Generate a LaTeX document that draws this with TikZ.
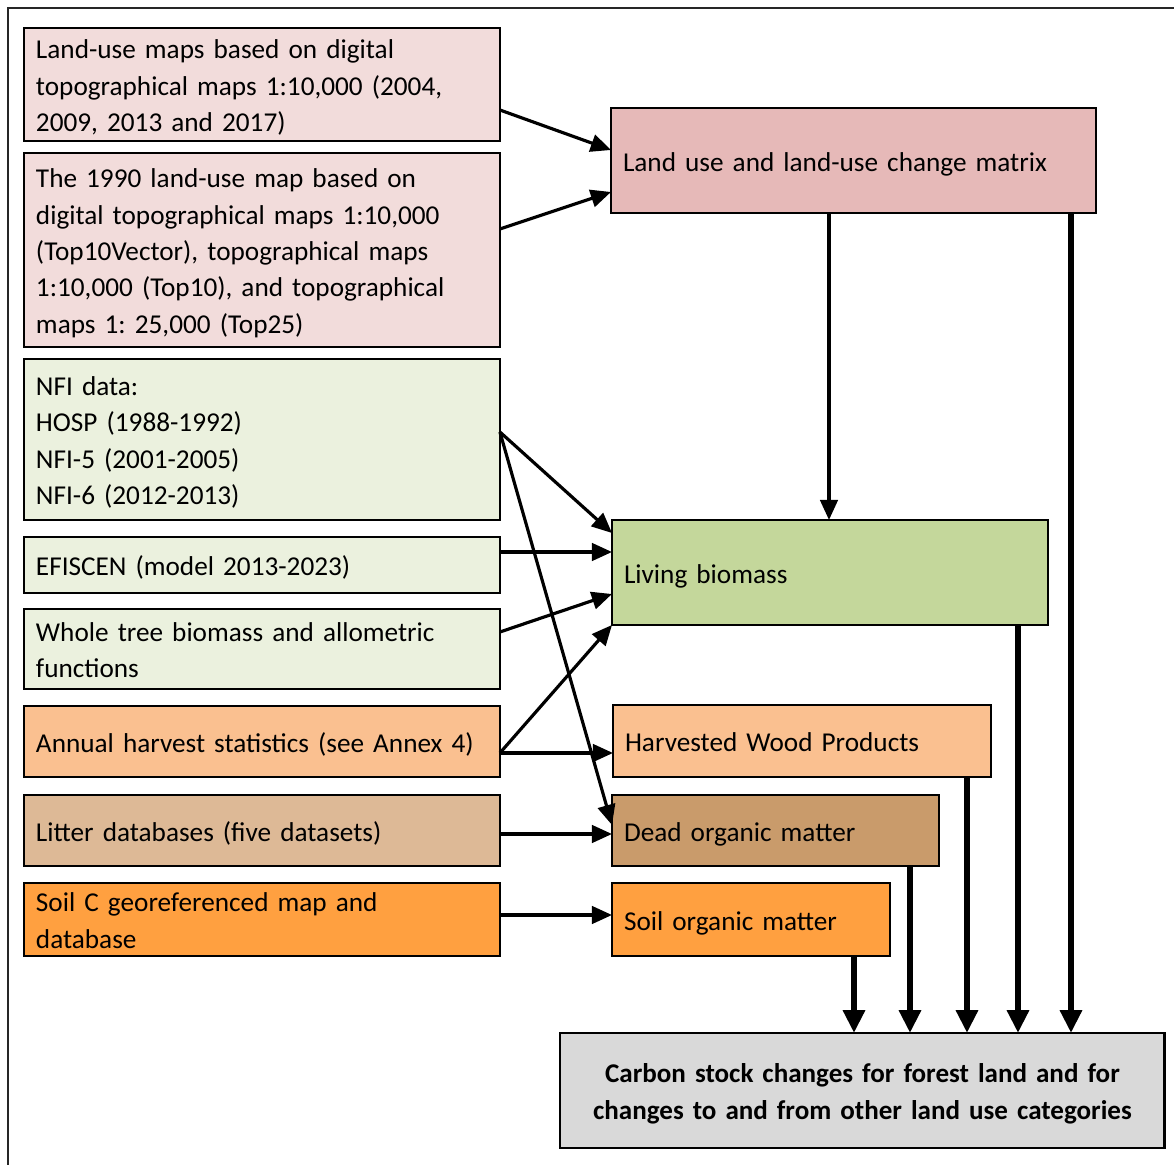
\documentclass[tikz,border=0pt]{standalone}
\usepackage{fontspec}
\setmainfont{Carlito}
\usetikzlibrary{arrows.meta}
\frenchspacing
\definecolor{cPinkL}{HTML}{F2DCDB}
\definecolor{cPink}{HTML}{E6B9B8}
\definecolor{cGreenL}{HTML}{EBF1DE}
\definecolor{cGreen}{HTML}{C4D79B}
\definecolor{cPeach}{HTML}{FAC090}
\definecolor{cLitter}{HTML}{DDB996}
\definecolor{cDead}{HTML}{C99B6B}
\definecolor{cSoil}{HTML}{FFA040}
\definecolor{cGray}{HTML}{D9D9D9}
\tikzset{
  boxx/.style={draw=black, line width=1.6pt, anchor=north west, inner xsep=0.24cm, inner ysep=0pt,
    align=left, font=\fontsize{15.5}{20.7}\selectfont\frenchspacing, outer sep=0pt,
    execute at begin node={\rule{0pt}{15.5pt}},
    execute at end node={\rule[-3.5pt]{0pt}{0pt}}},
  thinarr/.style={line width=1.8pt, -{Triangle[length=11.5pt,width=10pt]}},
  thickarr/.style={line width=3.3pt, -{Triangle[length=13pt,width=12pt]}},
}
\begin{document}
\begin{tikzpicture}[x=0.02cm, y=-0.02cm]
\useasboundingbox (0,0) rectangle (1174,1165);
\draw[line width=1.2pt, black!85] (1174,8) -- (8,8) -- (8,1165);
% left column
\node[boxx, fill=cPinkL, text width=9.04cm, minimum height=2.26cm] (b1) at (24,28)
  {Land-use maps based on digital\\topographical maps 1:10,000 (2004,\\2009, 2013 and 2017)};
\node[boxx, fill=cPinkL, text width=9.04cm, minimum height=3.88cm] (b2) at (24,153)
  {The 1990 land-use map based on\\digital topographical maps 1:10,000\\(Top10Vector), topographical maps\\1:10,000 (Top10), and topographical\\maps 1: 25,000 (Top25)};
\node[boxx, fill=cGreenL, text width=9.04cm, minimum height=3.22cm] (b3) at (24,359)
  {NFI data:\\HOSP (1988-1992)\\NFI-5 (2001-2005)\\NFI-6 (2012-2013)};
\node[boxx, fill=cGreenL, text width=9.04cm, minimum height=1.12cm] (b4) at (24,537)
  {EFISCEN (model 2013-2023)};
\node[boxx, fill=cGreenL, text width=9.04cm, minimum height=1.60cm] (b5) at (24,609)
  {Whole tree biomass and allometric\\functions};
\node[boxx, fill=cPeach, text width=9.04cm, minimum height=1.42cm] (b6) at (24,706)
  {Annual harvest statistics (see Annex 4)};
\node[boxx, fill=cLitter, text width=9.04cm, minimum height=1.42cm] (b7) at (24,795)
  {Litter databases (five datasets)};
\node[boxx, fill=cSoil, text width=9.04cm, minimum height=1.46cm] (b8) at (24,883)
  {Soil C georeferenced map and\\database};
% right column
\node[boxx, fill=cPink, text width=9.22cm, minimum height=2.10cm] (luc) at (611,108)
  {Land use and land-use change matrix};
\node[boxx, fill=cGreen, text width=8.24cm, minimum height=2.10cm] (liv) at (612,520)
  {Living biomass};
\node[boxx, fill=cPeach, text width=7.08cm, minimum height=1.44cm] (hwp) at (613,705)
  {Harvested Wood Products};
\node[boxx, fill=cDead, text width=6.06cm, minimum height=1.42cm] (dom) at (612,795)
  {Dead organic matter};
\node[boxx, fill=cSoil, text width=5.08cm, minimum height=1.46cm] (som) at (612,883)
  {Soil organic matter};
\node[boxx, fill=cGray, text width=11.62cm, minimum height=2.30cm, align=center,
  font=\fontsize{15.4}{20.9}\selectfont\bfseries] (cs) at (560,1033)
  {Carbon stock changes for forest land and for\\changes to and from other land use categories};
% thin arrows
\draw[thinarr] (b1.east |- 0,110) -- (luc.west |- 0,150);
\draw[thinarr] (b2.east |- 0,229) -- (luc.west |- 0,192);
\draw[thinarr] (luc.south -| 829,0) -- (liv.north -| 829,0);
\draw[thinarr] (b3.east |- 0,432) -- (liv.west |- 0,533);
\draw[thinarr] (b3.east |- 0,432) -- (dom.west |- 0,825);
\draw[thinarr] (b4.east |- 0,552) -- (liv.west |- 0,552);
\draw[thinarr] (b5.east |- 0,632) -- (liv.west |- 0,594);
\draw[thinarr] (b6.east |- 0,753) -- (liv.south west);
\draw[thinarr] (b6.east |- 0,753) -- (hwp.west |- 0,753);
\draw[thinarr] (b7.east |- 0,834) -- (dom.west |- 0,834);
\draw[thinarr] (b8.east |- 0,915) -- (som.west |- 0,915);
% thick arrows
\draw[thickarr] (som.south -| 854,0) -- (cs.north -| 854,0);
\draw[thickarr] (dom.south -| 910,0) -- (cs.north -| 910,0);
\draw[thickarr] (hwp.south -| 967,0) -- (cs.north -| 967,0);
\draw[thickarr] (liv.south -| 1018,0) -- (cs.north -| 1018,0);
\draw[thickarr] (luc.south -| 1071,0) -- (cs.north -| 1071,0);
\end{tikzpicture}
\end{document}
